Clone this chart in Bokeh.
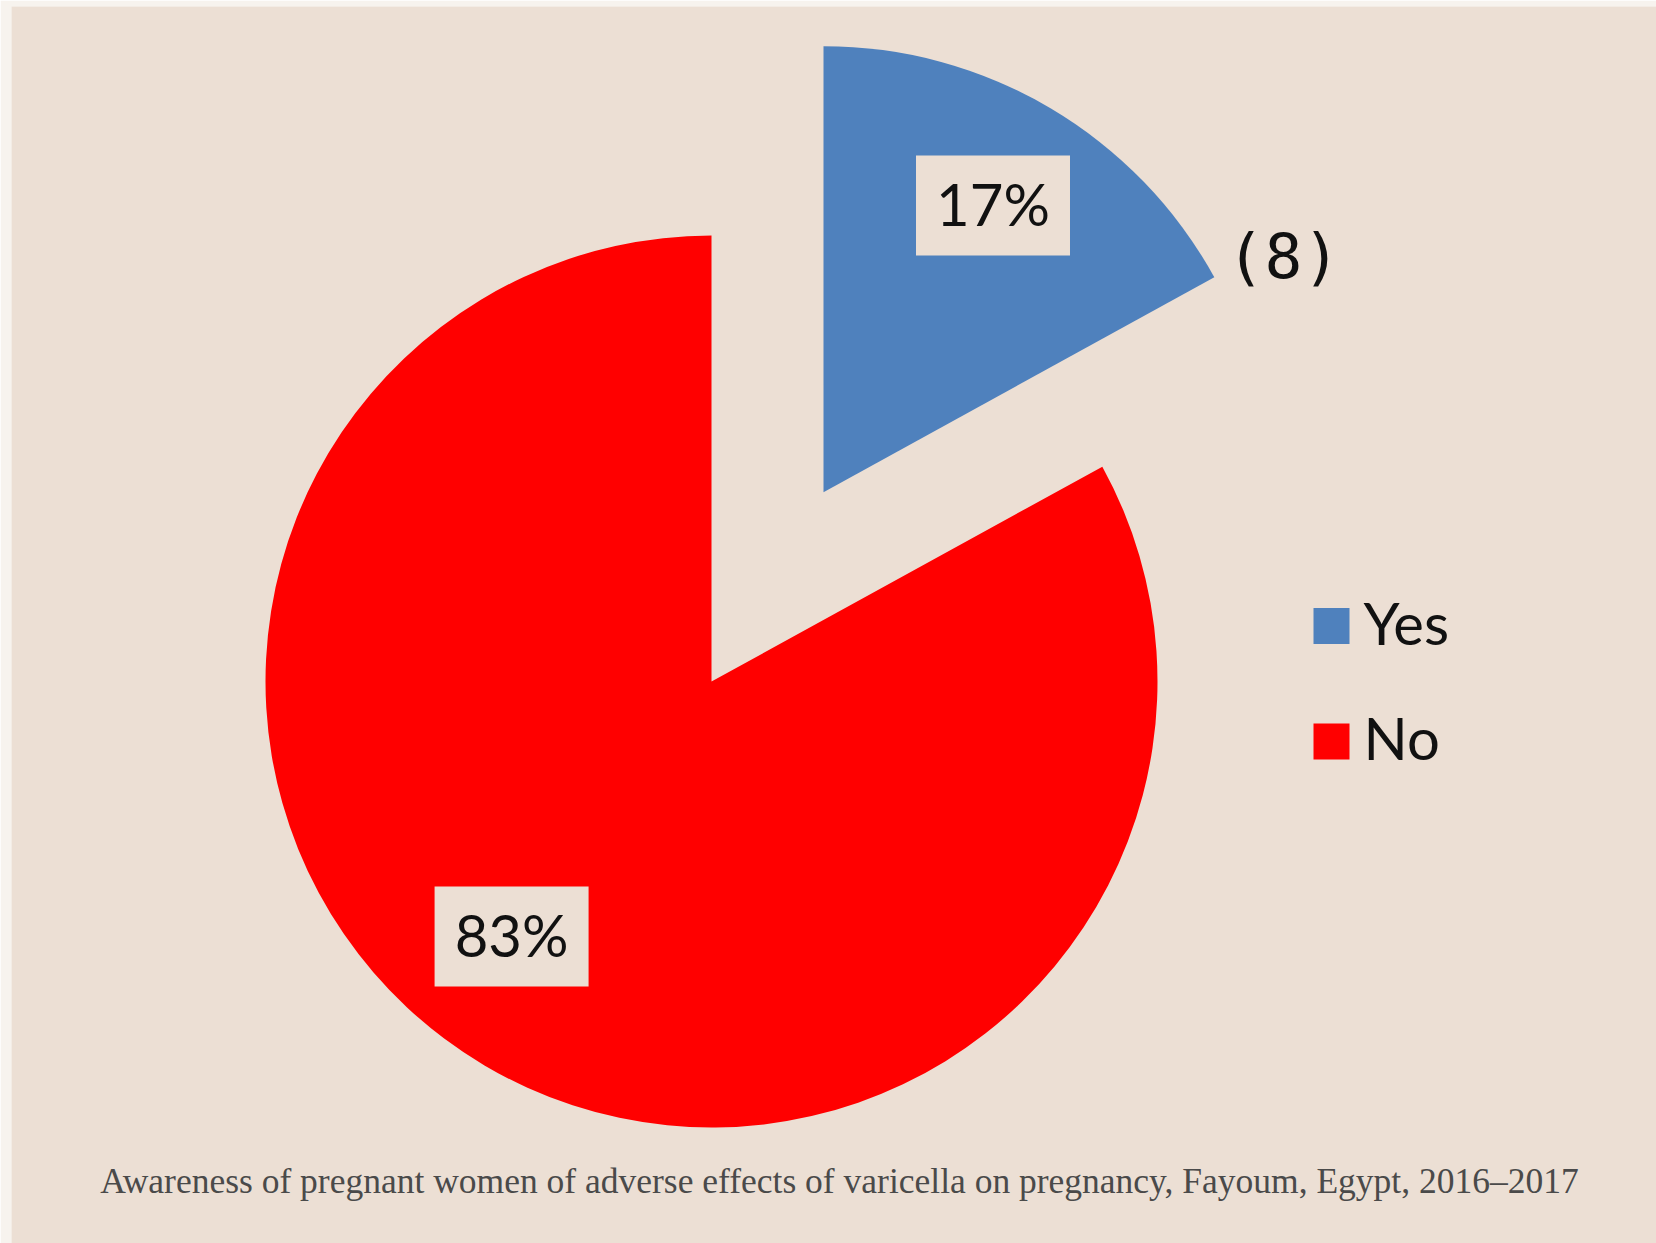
import numpy as np
from bokeh.plotting import figure
from bokeh.models import Range1d, ColumnDataSource
from bokeh.core.properties import value
from bokeh.embed import file_html
from bokeh.resources import INLINE

# ---- data ----
categories = ["Yes", "No"]
percent = [17, 83]
colors = ["#4f81bd", "#ff0000"]
note_text = "(8)"
caption = "Awareness of pregnant women of adverse effects of varicella on pregnancy, Fayoum, Egypt, 2016\u20132017"

# ---- layout (page pixel space, y downward -> data y = -y) ----
BG = "#ecdfd4"
EDGE = "#f7f3ee"
W, H = 1656, 1243
LEFT, TOP = 11, 6
CX, CY = 711, 681          # pie centre
R = 446                    # pie radius
EXPLODE = [220, 0]         # slice offsets
LABEL_DIST = [333, 324]
LABEL_SHIFT = [0.0, -7.5]  # degrees
BOX_W, BOX_H = 154, 100
BASE_FIX = 0.4             # baseline correction (em)

p = figure(width=W, height=H, x_range=Range1d(LEFT, W), y_range=Range1d(-H, -TOP),
           output_backend="svg", toolbar_location=None,
           min_border_left=LEFT, min_border_top=TOP, min_border_right=0, min_border_bottom=0,
           x_axis_location=None, y_axis_location=None,
           background_fill_color=BG, border_fill_color=EDGE, outline_line_color=None)
p.grid.visible = False

vals = np.array(percent, dtype=float)
frac = vals / vals.sum()
cum_end = np.cumsum(frac)
cum_start = cum_end - frac
start = np.radians(90 - cum_end * 360)
end = np.radians(90 - cum_start * 360)
mid = (start + end) / 2

xs = CX + np.array(EXPLODE) * np.cos(mid)
ys = -CY + np.array(EXPLODE) * np.sin(mid)

src = ColumnDataSource(dict(x=xs, y=ys, start=start, end=end, color=colors, cat=categories))
p.wedge(x="x", y="y", radius=R, start_angle="start", end_angle="end",
        direction="anticlock", fill_color="color", line_color=None, source=src)

LFS = 58
la = mid + np.radians(LABEL_SHIFT)
lx = xs + np.array(LABEL_DIST) * np.cos(la)
ly = ys + np.array(LABEL_DIST) * np.sin(la)
lab = ColumnDataSource(dict(x=lx, y=ly, ty=ly - 21 + BASE_FIX * LFS, t=[f"{v}%" for v in percent]))
p.rect(x="x", y="y", width=BOX_W, height=BOX_H, fill_color=BG, line_color=None, source=lab)
p.text(x="x", y="ty", text="t", text_align="center", text_baseline="alphabetic",
       text_font=value("Lato"), text_font_size=f"{LFS}px", text_color="#111111", source=lab)

# note "(8)"
p.text(x=[1283], y=[-256], text=[note_text], text_align="center", text_baseline="middle",
       text_font=value("DejaVu Sans Mono"), text_font_size="63px", text_color="#111111")

# legend
LEG_X, LEG_Y0, LEG_PITCH, SQ = 1331, 625.5, 115.5, 36
leg_y = [-(LEG_Y0 + i * LEG_PITCH) for i in range(len(categories))]
leg = ColumnDataSource(dict(x=[LEG_X] * len(categories), y=leg_y,
                            tx=[LEG_X + 32] * len(categories),
                            ty=[v - 19.5 + BASE_FIX * LFS for v in leg_y], t=categories, color=colors))
p.rect(x="x", y="y", width=SQ, height=SQ, fill_color="color", line_color=None, source=leg)
p.text(x="tx", y="ty", text="t", text_align="left", text_baseline="alphabetic",
       text_font=value("Lato"), text_font_size=f"{LFS}px", text_color="#111111", source=leg)

# caption
CFS = 35.5
p.text(x=[839], y=[-1195 + BASE_FIX * CFS], text=[caption], text_align="center", text_baseline="alphabetic",
       text_font=value("Liberation Serif"), text_font_size=f"{CFS}px", text_color="#4a4a4a")

open("out.html", "w").write(file_html(p, INLINE))
